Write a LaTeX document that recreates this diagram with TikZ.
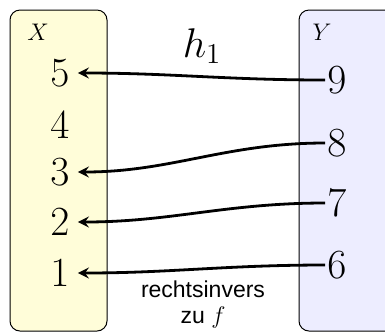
\documentclass[tikz,border=0pt]{standalone}
\usepackage{fontspec}
\newfontfamily\helv{Liberation Sans}
\usepackage{xcolor}
\usetikzlibrary{positioning}

\begin{document}
\begin{tikzpicture}[x=0.5pt, y=-0.5pt,
    setbox/.style={draw, line width=0.5pt, rounded corners=5pt},
    num/.style={font=\huge, inner sep=1pt},
    setname/.style={font=\large},
    arrow/.style={draw, <-, >=stealth, line width=1.4pt, shorten <=3pt}
]
    \useasboundingbox (0,0) rectangle (385,334);

    % the two sets
    \path [setbox, fill=yellow!15] (10,10) rectangle (107,331);
    \path [setbox, fill=blue!7] (299,10) rectangle (420,331);
    \node (nameX) [setname] at (38,32) {$X$};
    \node (nameY) [setname] at (322,32) {$Y$};

    \node (x5) [num] at (60,73) {$5$};
    \node (x4) [num] at (60,125) {$4$};
    \node (x3) [num] at (60,172) {$3$};
    \node (x2) [num] at (60,222) {$2$};
    \node (x1) [num] at (60,273) {$1$};

    \node (y9) [num] at (337,80) {$9$};
    \node (y8) [num] at (337,143) {$8$};
    \node (y7) [num] at (337,203) {$7$};
    \node (y6) [num] at (337,265) {$6$};

    \node (title) [font=\huge] at (202,46) {$h_1$};
    \node (note) [font=\helv\fontsize{11.5}{13}\selectfont, align=center] at (203,304) {rechtsinvers\\zu $f$};

    \path [arrow] (x5.east) to[out=0, in=180] (y9.west);
    \path [arrow] (x3.east) to[out=0, in=180] (y8.west);
    \path [arrow] (x2.east) to[out=0, in=180] (y7.west);
    \path [arrow] (x1.east) to[out=0, in=180] (y6.west);
\end{tikzpicture}
\end{document}
